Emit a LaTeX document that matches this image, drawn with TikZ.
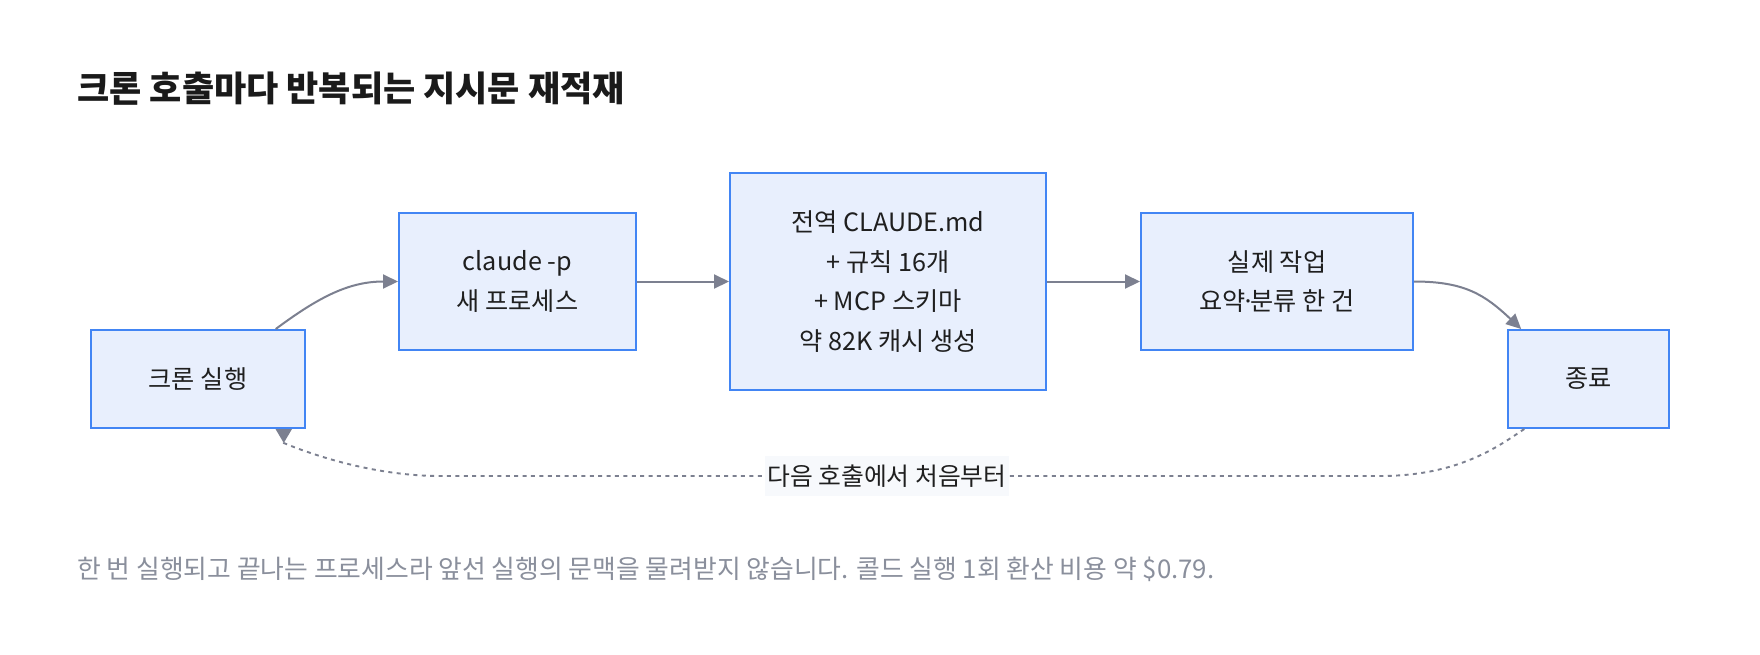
\documentclass[tikz,border=0pt]{standalone}
\usepackage{fontspec}
\setmainfont{Noto Sans CJK KR}
\usetikzlibrary{arrows.meta,calc}
\definecolor{boxfill}{HTML}{E8EFFD}
\definecolor{boxline}{HTML}{4285F4}
\definecolor{txt}{HTML}{1F1F1F}
\definecolor{titlec}{HTML}{1A1A1A}
\definecolor{arrowc}{HTML}{7C8090}
\definecolor{lblbg}{HTML}{F7F9FC}
\definecolor{footc}{HTML}{8A8F9C}
\begin{document}
\begin{tikzpicture}[x=0.5pt,y=-0.5pt,
  box/.style={draw=boxline, fill=boxfill, line width=1pt, align=center, inner sep=0pt, text=txt,
    font=\fontsize{12.6pt}{19.75pt}\selectfont},
  flow/.style={draw=arrowc, line width=1pt, -{Triangle[length=7.5pt,width=7pt]}},
  back/.style={draw=arrowc, line width=0.95pt, dash pattern=on 2pt off 2.2pt,
    -{Triangle[length=7pt,width=8pt,reversed]}},
  lbl/.style={fill=lblbg, inner sep=0pt, minimum width=122pt, minimum height=20pt, text=txt,
    font=\fontsize{12.4pt}{14pt}\selectfont},
]
\fill[white] (0,0) rectangle (1760,654);
\useasboundingbox (0,0) rectangle (1760,654);

\node[anchor=base west, inner sep=0pt, text=titlec, font=\fontsize{17.5pt}{20pt}\selectfont\bfseries] (title) at (77,101) {크론 호출마다 반복되는 지시문 재적재};

\node[box, minimum width=107pt, minimum height=49pt] (b1) at (198,379) {크론 실행};
\node[box, minimum width=118.5pt, minimum height=68.5pt] (b2) at (517.5,281.5) {claude -p\\새 프로세스};
\node[box, minimum width=158pt, minimum height=108.5pt] (b3) at (888,281.5) {전역 CLAUDE.md\\+ 규칙 16개\\+ MCP 스키마\\약 82K 캐시 생성};
\node[box, minimum width=136pt, minimum height=68.5pt] (b4) at (1277,281.5) {실제 작업\\요약\kern-0.2em·\kern-0.2em분류 한 건};
\node[box, minimum width=80.5pt, minimum height=49pt] (b5) at (1588.5,379) {종료};

\coordinate (s1) at ($(b1.north west)!0.86!(b1.north east)$);
\draw[flow] (s1) .. controls (320,296) and (350,281.5) .. (b2.west);
\draw[flow] (b2.east) -- (b3.west);
\draw[flow] (b3.east) -- (b4.west);
\coordinate (e5) at ($(b5.north west)!0.087!(b5.north east)$);
\draw[flow] (b4.east) .. controls (1465,281.5) and (1485,295) .. (e5);

\coordinate (d0) at ($(b5.south west)!0.106!(b5.south east)$);
\coordinate (d9) at ($(b1.south west)!0.897!(b1.south east)$);
\coordinate (dk) at ($(d9)+(0,14)$);
\draw[back] (d0) .. controls (1500,445) and (1460,476) .. (1380,476)
  -- node[lbl, pos=0.5245] (lab) {다음 호출에서 처음부터} (440,476)
  .. controls (380,476) and (320,458) .. (dk) -- (d9);

\node[anchor=base west, inner sep=0pt, text=footc, font=\fontsize{12.9pt}{15pt}\selectfont] (foot) at (77,578) {한 번 실행되고 끝나는 프로세스라 앞선 실행의 문맥을 물려받지 않습니다. 콜드 실행 1회 환산 비용 약 \$0.79.};
\end{tikzpicture}
\end{document}
